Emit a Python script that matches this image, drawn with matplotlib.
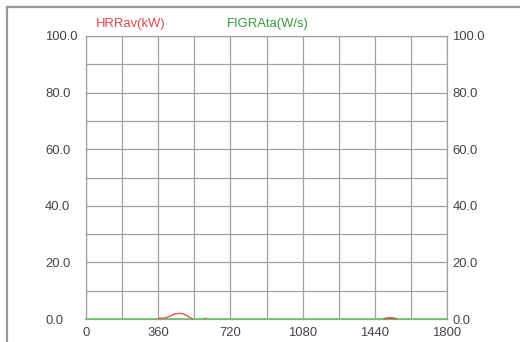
import matplotlib
matplotlib.use("Agg")
import matplotlib.pyplot as plt
from matplotlib.lines import Line2D
import numpy as np

plt.rcParams['font.family'] = ['Liberation Sans', 'DejaVu Sans']

# Heat release rate (averaged), kW
hrr_t = [360, 375, 390, 405, 420, 435, 450, 465, 480, 495, 510, 525, 532]
hrr_v = [0.2, 0.3, 0.3, 0.6, 1.1, 1.6, 1.9, 2.0, 1.9, 1.5, 0.9, 0.3, 0.0]
# isolated small readings later in the test
hrr_t2 = [588, 596]
hrr_v2 = [0.3, 0.3]
hrr_t3 = [1488, 1500, 1515, 1530, 1546]
hrr_v3 = [0.1, 0.3, 0.4, 0.3, 0.1]

# FIGRA index, W/s
figra_t = [0, 1800]
figra_v = [0.0, 0.0]

x_ticks = [0, 360, 720, 1080, 1440, 1800]
y_ticks = [0, 20, 40, 60, 80, 100]

W, H = 520, 342
fig = plt.figure(figsize=(W / 100, H / 100), dpi=100)

# outer frame (left and top edges)
fig.add_artist(Line2D([6.5 / W, 6.5 / W], [0, 1 - 7 / H], transform=fig.transFigure,
                      color='#9a9a9a', lw=1.6))
fig.add_artist(Line2D([6.5 / W, 1], [1 - 7 / H, 1 - 7 / H], transform=fig.transFigure,
                      color='#9a9a9a', lw=1.6))

ax = fig.add_axes([86 / W, (H - 319) / H, 361 / W, 283 / H])
grid_c = '#a0a0a0'
fs = 9.4
lab_c = '#444444'
ax.set_xlim(0, 1800)
ax.set_ylim(0, 100)
ax.set_xticks(x_ticks)
ax.set_xticks(np.arange(0, 1801, 180), minor=True)
ax.set_yticks(y_ticks)
ax.set_yticks(np.arange(0, 101, 10), minor=True)
ax.set_yticklabels([f"{v:.1f}" for v in y_ticks])
ax.grid(True, which='both', color=grid_c, lw=0.9)
ax.tick_params(which='both', length=0)
ax.tick_params(axis='x', pad=5.5, labelsize=fs, labelcolor=lab_c)
# left labels are left-aligned in a fixed column
ax.tick_params(axis='y', pad=29.5, labelsize=fs, labelcolor=lab_c)
for lab in ax.get_yticklabels():
    lab.set_horizontalalignment('left')
for s in ax.spines.values():
    s.set_color(grid_c)
    s.set_linewidth(0.9)

ax2 = ax.twinx()
ax2.set_ylim(0, 100)
ax2.set_yticks(y_ticks)
ax2.set_yticklabels([f"{v:.1f}" for v in y_ticks])
ax2.tick_params(length=0, pad=3.8, labelsize=fs, labelcolor=lab_c)
for s in ax2.spines.values():
    s.set_visible(False)

green = '#6cc26c'
red = '#e05a5a'
ax.plot(figra_t, figra_v, color=green, lw=1.2, clip_on=False, zorder=3)
ax.plot(hrr_t, hrr_v, color=red, lw=1.0, clip_on=False, zorder=4)
ax.plot(hrr_t2, hrr_v2, color='#8a8a6a', lw=1.0, clip_on=False, zorder=4)
ax.plot(hrr_t3, hrr_v3, color='#b06a40', lw=1.3, clip_on=False, zorder=4)

fig.text(96 / W, 1 - 23.5 / H, "HRRav(kW)", color='#e04848', fontsize=fs, va='center', ha='left')
fig.text(227 / W, 1 - 23.5 / H, "FIGRAta(W/s)", color='#3a9a3a', fontsize=fs, va='center', ha='left')

fig.savefig("out.png", dpi=100)
